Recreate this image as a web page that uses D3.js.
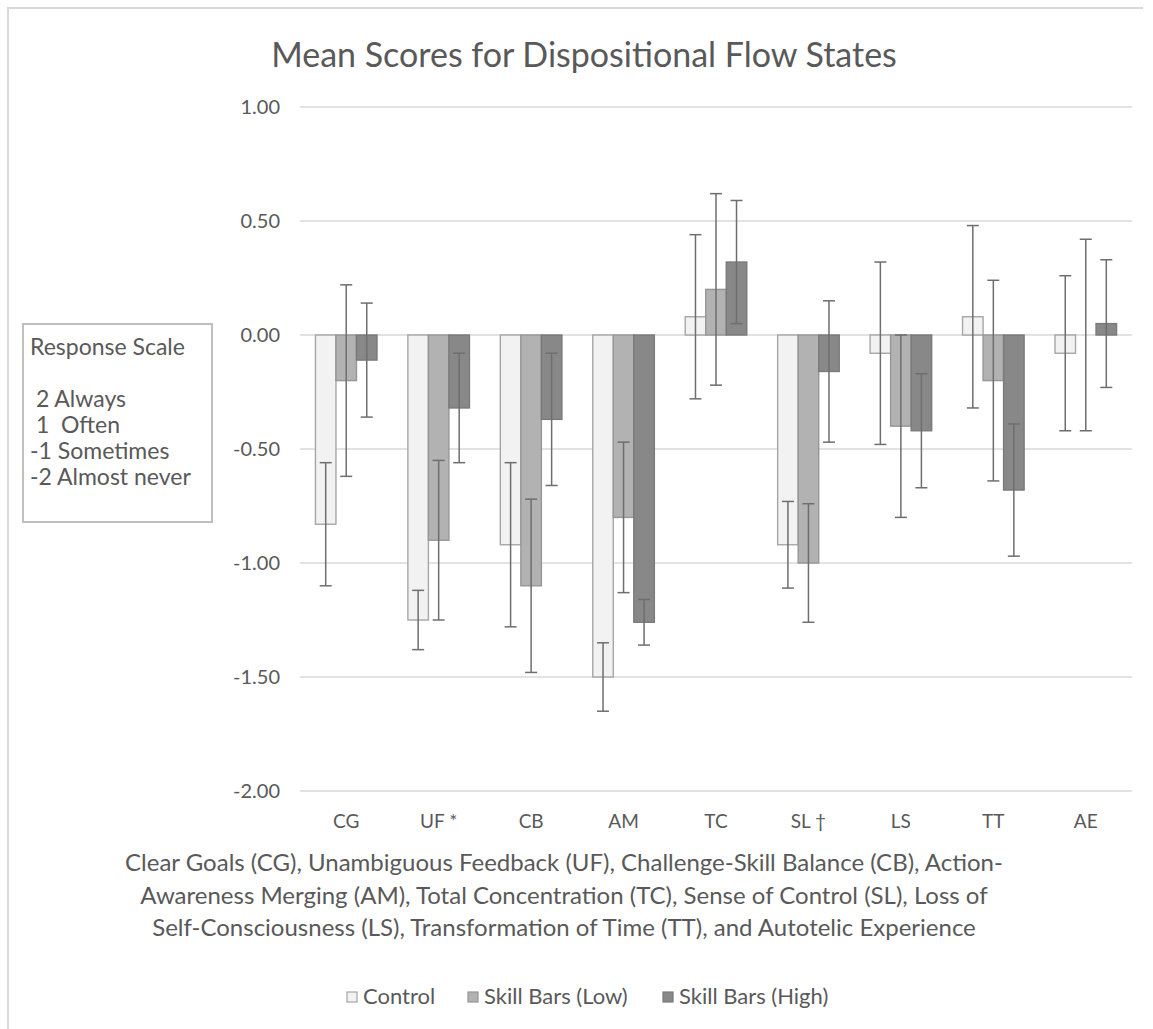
<!DOCTYPE html>
<html><head><meta charset="utf-8">
<script src="https://cdn.jsdelivr.net/npm/d3@7"></script>
<style>
html,body{margin:0;padding:0;background:#fff;}
svg text{font-family:Lato,"Open Sans",sans-serif;fill:#595959;}
</style></head>
<body>
<svg id="chart" width="1153" height="1029"></svg>
<script>
const categories = ["CG","UF *","CB","AM","TC","SL \u2020","LS","TT","AE"];
const seriesNames = ["Control","Skill Bars (Low)","Skill Bars (High)"];
const controlValues = [-0.83,-1.25,-0.92,-1.50,0.08,-0.92,-0.08,0.08,-0.08];
const lowValues     = [-0.20,-0.90,-1.10,-0.80,0.20,-1.00,-0.40,-0.20,0.00];
const highValues    = [-0.11,-0.32,-0.37,-1.26,0.32,-0.16,-0.42,-0.68,0.05];
const controlErr = [0.27,0.13,0.36,0.15,0.36,0.19,0.40,0.40,0.34];
const lowErr     = [0.42,0.35,0.38,0.33,0.42,0.26,0.40,0.44,0.42];
const highErr    = [0.25,0.24,0.29,0.10,0.27,0.31,0.25,0.29,0.28];
const yTicks = [1.00,0.50,0.00,-0.50,-1.00,-1.50,-2.00];
const titleText = "Mean Scores for Dispositional Flow States";
const noteLines = [
 "Clear Goals (CG), Unambiguous Feedback (UF), Challenge-Skill Balance (CB), Action-",
 "Awareness Merging (AM), Total Concentration (TC), Sense of Control (SL), Loss of",
 "Self-Consciousness (LS), Transformation of Time (TT), and Autotelic Experience"
];
const scaleLines = ["Response Scale",""," 2 Always"," 1  Often","-1 Sometimes","-2 Almost never"];

const values = [controlValues, lowValues, highValues];
const errs = [controlErr, lowErr, highErr];
const fills = ["#f2f2f2","#b2b2b2","#888888"];
const strokes = ["#a6a6a6","#969696","#7a7a7a"];

const svg = d3.select("#chart");

// outer chart border
svg.append("path").attr("d","M8,1040 V8 H1143").attr("fill","none").attr("stroke","#d9d9d9").attr("stroke-width",2);

const plot = {left:300,right:1132,top:107,bottom:791};
const x0 = d3.scaleBand().domain(categories).range([plot.left,plot.right]).paddingInner(0.334).paddingOuter(0.167);
const x1 = d3.scaleBand().domain([0,1,2]).range([0,x0.bandwidth()]);
const y = d3.scaleLinear().domain([-2,1]).range([plot.bottom,plot.top]);

// gridlines
svg.append("g").selectAll("line").data(yTicks).join("line")
  .attr("x1",plot.left).attr("x2",plot.right)
  .attr("y1",d=>y(d)).attr("y2",d=>y(d))
  .attr("stroke","#d9d9d9").attr("stroke-width",1.3);

// y axis labels
const fmt = d3.format(".2f");
const yAxis = d3.axisLeft(y).tickValues(yTicks).tickFormat(d=>fmt(d).replace("\u2212","-")).tickSize(0).tickPadding(20);
const ya = svg.append("g").attr("transform",`translate(${plot.left},0)`).call(yAxis);
ya.select(".domain").remove();
ya.selectAll("text").style("font-size","20px").attr("fill","#595959");

// bars
categories.forEach((c,i)=>{
  const g = svg.append("g").attr("transform",`translate(${x0(c)},0)`);
  [0,1,2].forEach(s=>{
    const v = values[s][i];
    g.append("rect")
      .attr("x",x1(s)).attr("width",x1.bandwidth())
      .attr("y",y(Math.max(0,v))).attr("height",Math.abs(y(v)-y(0)))
      .attr("fill",fills[s]).attr("stroke",strokes[s]).attr("stroke-width",1.4);
  });
});
// error bars
categories.forEach((c,i)=>{
  [0,1,2].forEach(s=>{
    const v = values[s][i], e = errs[s][i];
    const cx = x0(c)+x1(s)+x1.bandwidth()/2;
    const g = svg.append("g").attr("stroke","#6e6e6e").attr("stroke-width",1.5);
    g.append("line").attr("x1",cx).attr("x2",cx).attr("y1",y(v+e)).attr("y2",y(v-e));
    g.append("line").attr("x1",cx-6).attr("x2",cx+6).attr("y1",y(v+e)).attr("y2",y(v+e));
    g.append("line").attr("x1",cx-6).attr("x2",cx+6).attr("y1",y(v-e)).attr("y2",y(v-e));
  });
});

// x axis labels
const xAxis = d3.axisBottom(x0).tickSize(0).tickPadding(24);
const xa = svg.append("g").attr("transform",`translate(0,${plot.bottom})`).call(xAxis);
xa.select(".domain").remove();
xa.selectAll("text").style("font-size","19px").attr("fill","#595959");

// title
svg.append("text").attr("x",584).attr("y",67).attr("text-anchor","middle")
  .style("font-size","34px").text(titleText);

// notes
svg.append("g").selectAll("text").data(noteLines).join("text")
  .attr("x",564).attr("y",(d,i)=>871+i*32.5).attr("text-anchor","middle")
  .style("font-size","24px").text(d=>d);

// response scale box
svg.append("rect").attr("x",23).attr("y",324).attr("width",189).attr("height",198)
  .attr("fill","#fff").attr("stroke","#bfbfbf").attr("stroke-width",2);
svg.append("g").selectAll("text").data(scaleLines).join("text")
  .attr("x",30).attr("y",(d,i)=>355+i*26).attr("xml:space","preserve").style("white-space","pre")
  .style("font-size","23px").text(d=>d);

// legend
const legendX = [347,468,663];
const lg = svg.append("g").selectAll("g").data(seriesNames).join("g")
  .attr("transform",(d,i)=>`translate(${legendX[i]},992)`);
lg.append("rect").attr("width",10).attr("height",10)
  .attr("fill",(d,i)=>fills[i]).attr("stroke",(d,i)=>strokes[i]).attr("stroke-width",1.2);
lg.append("text").attr("x",16).attr("y",12).style("font-size","22px").text(d=>d);
</script>
</body></html>
